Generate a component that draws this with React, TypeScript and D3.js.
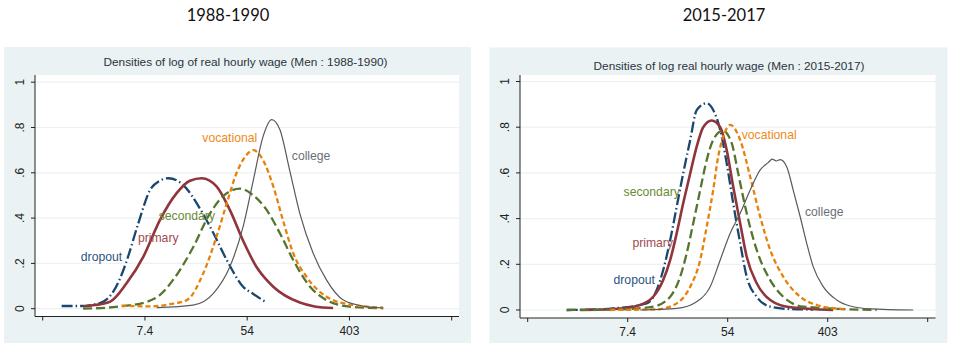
import React from "react";
import * as d3 from "d3";

type Pt = [number, number];

// x values are log hourly wage; y values are densities
const xTickValues = [0, 2, 4, 6, 8];
const xTickLabels = ["", "7.4", "54", "403", ""];
const yTickValues = [0, 0.2, 0.4, 0.6, 0.8, 1];
const yTickLabels = ["0", ".2", ".4", ".6", ".8", "1"];

const headings = ["1988-1990", "2015-2017"];
const panelTitles = [
  "Densities of log of real hourly wage (Men : 1988-1990)",
  "Densities of log real hourly wage (Men : 2015-2017)",
];
const seriesNames = ["dropout", "primary", "secondary", "vocational", "college"];

// ---- 1988-1990 ----
const dropout1988: Pt[] = [
  [0.37, 0.012], [0.73, 0.012], [1.12, 0.025], [1.38, 0.075], [1.61, 0.19], [1.67, 0.23],
  [1.87, 0.377], [2.1, 0.524], [2.29, 0.565], [2.46, 0.576], [2.75, 0.546], [3.08, 0.44],
  [3.34, 0.333], [3.6, 0.215], [3.92, 0.097], [4.12, 0.065], [4.35, 0.031],
];
const primary1988: Pt[] = [
  [0.79, 0.01], [1.02, 0.016], [1.32, 0.031], [1.64, 0.112], [1.97, 0.23], [2.29, 0.39],
  [2.62, 0.51], [2.88, 0.565], [3.11, 0.576], [3.4, 0.54], [3.66, 0.436], [3.92, 0.3],
  [4.18, 0.185], [4.51, 0.097], [5.03, 0.027], [5.32, 0.01], [5.68, 0.003],
];
const secondary1988: Pt[] = [
  [0.79, 0.0], [1.51, 0.01], [2.03, 0.03], [2.29, 0.06], [2.55, 0.127], [2.94, 0.27],
  [3.27, 0.42], [3.6, 0.51], [3.86, 0.53], [4.12, 0.5], [4.38, 0.436], [4.64, 0.333],
  [4.9, 0.215], [5.23, 0.097], [5.55, 0.038], [6.01, 0.009], [6.66, 0.002],
];
const vocational1988: Pt[] = [
  [1.54, 0.014], [2.1, 0.01], [2.49, 0.02], [2.82, 0.038], [3.14, 0.156], [3.4, 0.318],
  [3.6, 0.465], [3.79, 0.598], [3.99, 0.68], [4.12, 0.7], [4.31, 0.656], [4.51, 0.54],
  [4.7, 0.39], [4.9, 0.245], [5.16, 0.141], [5.55, 0.053], [6.07, 0.016], [6.66, 0.005],
];
const college1988: Pt[] = [
  [2.23, 0.005], [2.94, 0.016], [3.34, 0.068], [3.66, 0.185], [3.92, 0.362], [4.12, 0.568],
  [4.31, 0.76], [4.48, 0.835], [4.64, 0.79], [4.83, 0.612], [5.03, 0.42], [5.29, 0.245],
  [5.55, 0.127], [5.88, 0.038], [6.33, 0.009], [6.66, 0.003],
];

// ---- 2015-2017 ----
const dropout2015: Pt[] = [
  [0.78, 0.0], [1.45, 0.003], [1.71, 0.007], [2.38, 0.029], [2.58, 0.0875], [2.71, 0.175],
  [2.85, 0.306], [2.98, 0.452], [3.11, 0.598], [3.25, 0.744], [3.38, 0.875], [3.58, 0.905],
  [3.71, 0.875], [3.85, 0.788], [3.98, 0.642], [4.11, 0.467], [4.25, 0.292], [4.38, 0.146],
  [4.58, 0.058], [4.85, 0.015], [5.25, 0.004], [5.71, 0.002],
];
const primary2015: Pt[] = [
  [1.05, 0.0], [1.65, 0.003], [2.18, 0.0175], [2.51, 0.058], [2.71, 0.131], [2.85, 0.219],
  [2.98, 0.336], [3.11, 0.467], [3.25, 0.598], [3.38, 0.715], [3.51, 0.8], [3.68, 0.829],
  [3.85, 0.8], [3.98, 0.7], [4.11, 0.54], [4.25, 0.379], [4.38, 0.233], [4.58, 0.117],
  [4.85, 0.044], [5.25, 0.012], [6.11, 0.0],
];
const secondary2015: Pt[] = [
  [0.78, 0.0], [1.78, 0.002], [2.51, 0.015], [2.85, 0.058], [3.05, 0.146], [3.18, 0.248],
  [3.31, 0.379], [3.45, 0.525], [3.58, 0.656], [3.71, 0.744], [3.9, 0.785], [4.08, 0.73],
  [4.21, 0.598], [4.38, 0.423], [4.58, 0.263], [4.85, 0.131], [5.11, 0.058], [5.51, 0.015],
  [6.98, 0.0],
];
const vocational2015: Pt[] = [
  [1.65, 0.0], [2.58, 0.003], [2.98, 0.029], [3.25, 0.102], [3.45, 0.219], [3.58, 0.365],
  [3.71, 0.525], [3.81, 0.671], [3.91, 0.758], [4.05, 0.81], [4.25, 0.744], [4.45, 0.583],
  [4.65, 0.408], [4.85, 0.263], [5.11, 0.146], [5.45, 0.058], [5.78, 0.022], [6.25, 0.005],
  [6.38, 0.003],
];
const college2015: Pt[] = [
  [2.25, 0.0], [2.98, 0.007], [3.38, 0.036], [3.65, 0.102], [3.85, 0.219], [4.05, 0.336],
  [4.25, 0.423], [4.45, 0.525], [4.65, 0.613], [4.81, 0.645], [4.89, 0.66], [4.97, 0.652],
  [5.05, 0.658], [5.18, 0.627], [5.31, 0.525], [5.45, 0.408], [5.58, 0.292], [5.71, 0.19],
  [5.91, 0.102], [6.18, 0.044], [6.45, 0.0175], [6.85, 0.005], [7.71, 0.0],
];

// label anchor positions (data coords)
const labels1988: Pt[] = [[1.15, 0.21], [2.26, 0.295], [2.82, 0.39], [3.66, 0.735], [5.25, 0.655]];
const labels2015: Pt[] = [[2.13, 0.115], [2.5, 0.275], [2.48, 0.5], [4.83, 0.75], [5.93, 0.41]];

const lineColors = ["#1a476f", "#90353b", "#55752f", "#e8810b", "#5a5a5a"];
const textColors = ["#2a5580", "#a04a50", "#6b8a35", "#ee8a1a", "#6a6f78"];
const lineWidths = [2.3, 2.6, 2.3, 2.3, 1.2];
const dashes = ["11,3,1.5,3", "none", "9,4", "5,3", "none"];

const sans = "Arial, 'Liberation Sans', Helvetica, sans-serif";

interface PanelProps {
  idx: number;
  series: Pt[][];
  labelPos: Pt[];
  bg: [number, number, number, number];
  plot: [number, number, number, number]; // left, top, right, bottom(axis)
  xr: [number, number];
  yr: [number, number];
  headingX: number;
  titleX: number;
  titleY: number;
}

function Panel(p: PanelProps) {
  const x = d3.scaleLinear().domain([0, 8]).range(p.xr);
  const y = d3.scaleLinear().domain([0, 1]).range(p.yr);
  const line = d3
    .line<Pt>()
    .x((d) => x(d[0]))
    .y((d) => y(d[1]))
    .curve(d3.curveMonotoneX);
  const [pl, pt, pr, pb] = p.plot;
  return (
    <g>
      <text
        x={p.headingX}
        y={21}
        textAnchor="middle"
        fontFamily="Lato, 'Open Sans', sans-serif"
        fontSize={16.5}
        fill="#111"
      >
        {headings[p.idx]}
      </text>
      <rect x={p.bg[0]} y={p.bg[1]} width={p.bg[2] - p.bg[0]} height={p.bg[3] - p.bg[1]} fill="#eaf2f3" />
      <rect x={pl} y={pt} width={pr - pl} height={pb - pt} fill="#ffffff" />
      <text
        x={p.titleX}
        y={p.titleY}
        textAnchor="middle"
        fontFamily={sans}
        fontSize={11.8}
        fill="#2b3440"
      >
        {panelTitles[p.idx]}
      </text>
      {yTickValues.map((v) => (
        <line key={"g" + v} x1={pl} x2={pr} y1={y(v)} y2={y(v)} stroke="#eaf2f3" strokeWidth={1.2} />
      ))}
      {p.series.map((s, i) => (
        <path
          key={"s" + i}
          d={line(s) || ""}
          fill="none"
          stroke={lineColors[i]}
          strokeWidth={lineWidths[i]}
          strokeDasharray={dashes[i]}
          strokeLinejoin="round"
        />
      ))}
      {p.labelPos.map((lp, i) => (
        <text
          key={"l" + i}
          x={x(lp[0])}
          y={y(lp[1])}
          textAnchor="middle"
          fontFamily={sans}
          fontSize={12.2}
          fill={textColors[i]}
        >
          {seriesNames[i]}
        </text>
      ))}
      {/* y axis */}
      <line x1={pl} x2={pl} y1={pt} y2={pb} stroke="#222" strokeWidth={1} />
      {yTickValues.map((v, i) => (
        <g key={"y" + v}>
          <line x1={pl - 4} x2={pl} y1={y(v)} y2={y(v)} stroke="#222" strokeWidth={1} />
          <text
            transform={`translate(${pl - 11},${y(v)}) rotate(-90)`}
            textAnchor="middle"
            fontFamily={sans}
            fontSize={12}
            fill="#222"
          >
            {yTickLabels[i]}
          </text>
        </g>
      ))}
      {/* x axis */}
      <line x1={pl} x2={pr} y1={pb} y2={pb} stroke="#222" strokeWidth={1} />
      {xTickValues.map((v, i) => (
        <g key={"x" + v}>
          <line x1={x(v)} x2={x(v)} y1={pb} y2={pb + 4} stroke="#222" strokeWidth={1} />
          <text
            x={x(v)}
            y={pb + 18}
            textAnchor="middle"
            fontFamily={sans}
            fontSize={12}
            fill="#222"
          >
            {xTickLabels[i]}
          </text>
        </g>
      ))}
    </g>
  );
}

export default function App() {
  return (
    <svg
      width={960}
      height={350}
      style={{ position: "absolute", left: 0, top: 0, background: "#fff" }}
    >
      <Panel
        idx={0}
        series={[dropout1988, primary1988, secondary1988, vocational1988, college1988]}
        labelPos={labels1988}
        bg={[4, 47, 471, 343]}
        plot={[35, 75, 459, 316.5]}
        xr={[42.7, 451.7]}
        yr={[308.7, 82.2]}
        headingX={228}
        titleX={245.5}
        titleY={66}
      />
      <Panel
        idx={1}
        series={[dropout2015, primary2015, secondary2015, vocational2015, college2015]}
        labelPos={labels2015}
        bg={[489.5, 47.5, 947.5, 343]}
        plot={[520, 75, 935.5, 318]}
        xr={[527.7, 927.7]}
        yr={[310, 81.5]}
        headingX={724}
        titleX={729}
        titleY={70}
      />
    </svg>
  );
}
